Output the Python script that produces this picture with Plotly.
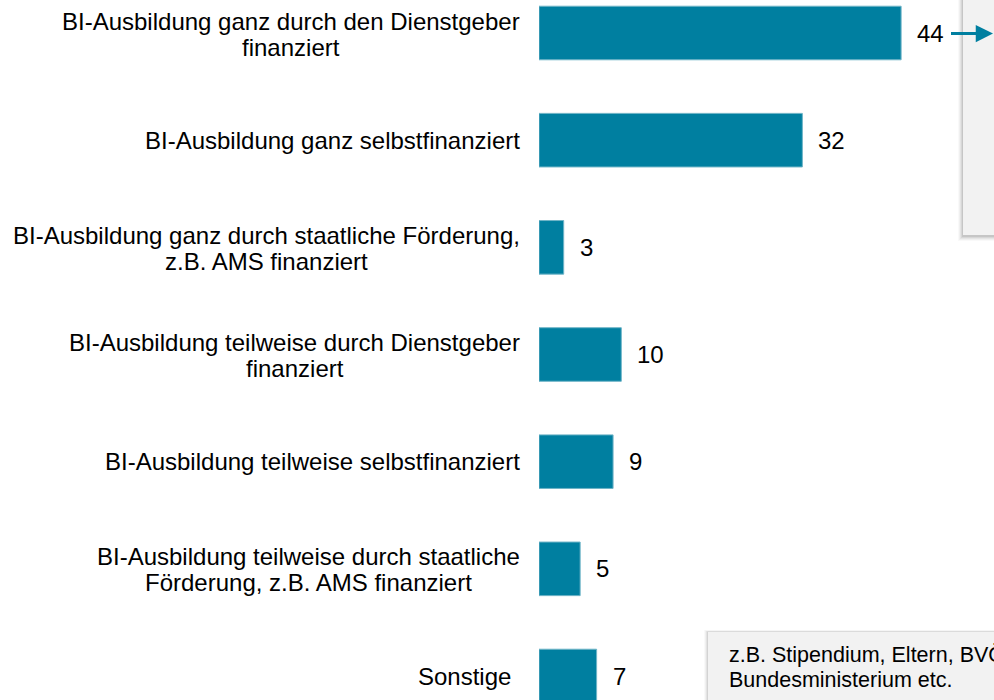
import plotly.graph_objects as go

categories = [
    "BI-Ausbildung ganz durch den Dienstgeber<br>finanziert",
    "BI-Ausbildung ganz selbstfinanziert",
    "BI-Ausbildung ganz durch staatliche Förderung,<br>z.B. AMS finanziert",
    "BI-Ausbildung teilweise durch Dienstgeber<br>finanziert",
    "BI-Ausbildung teilweise selbstfinanziert",
    "BI-Ausbildung teilweise durch staatliche<br>Förderung, z.B. AMS finanziert",
    "Sonstige",
]
values = [44, 32, 3, 10, 9, 5, 7]
note_text = "z.B. Stipendium, Eltern, BVÖ,<br>Bundesministerium etc."

BAR = "#007FA0"
OFF = 0              # page body margin removed via post_script
W, H = 994, 700      # figure size
L = 539 - OFF        # left margin -> x=0 at page x 539
PX_PER_UNIT = 8.23
FONT = "Liberation Sans, Arial, sans-serif"
LBL_SIZE = 24
LINE_H = 26
EXTRA_LABEL_GAP = {6: 9}   # the "Sonstige" label sits a little further left

# Arial / Liberation Sans advance widths (per 1000 em) for text layout
_AW = {
    " ": 278, ",": 278, "-": 333, ".": 278,
    "A": 667, "B": 667, "D": 722, "F": 611, "I": 278, "M": 833, "S": 667, "E": 667,
    "a": 556, "b": 556, "c": 500, "d": 556, "e": 556, "f": 278, "g": 556, "h": 556,
    "i": 222, "l": 222, "m": 833, "n": 556, "o": 556, "p": 556, "r": 333, "s": 500,
    "t": 278, "u": 556, "w": 722, "z": 500, "ö": 556, "ü": 556,
}


def text_width(s, size):
    return sum(_AW.get(ch, 556) for ch in s) * size / 1000.0


y_idx = list(range(len(categories)))

# vertical scale: bar 0 centre at page y 33, bar 6 centre at page y 676
c0 = 33 - OFF
c6 = 676 - OFF
ppu = (c6 - c0) / 6.0
y_top = -c0 / ppu
y_bot = 6 + (H - c6) / ppu

fig = go.Figure()
fig.add_trace(go.Bar(
    x=values, y=y_idx, orientation="h", width=0.5,
    marker=dict(color=BAR, line=dict(color="#6FB4C7", width=1)),
    hoverinfo="skip",
))


def px(xp):
    """page x -> paper x"""
    return (xp - OFF - L) / (W - L)


def py(yp):
    """page y -> paper y"""
    return 1 - (yp - OFF) / H


shapes = []
# soft shadows (layered translucent rects) + light grey boxes
for d, a in [(5, 0.025), (4, 0.035), (3, 0.045), (2, 0.06), (1, 0.08)]:
    shapes.append(dict(type="rect", xref="paper", yref="paper",
                       x0=px(963 - d), x1=px(1010), y0=py(235 + d + 1), y1=py(-10),
                       fillcolor=f"rgba(0,0,0,{a})", line=dict(width=0), layer="below"))
shapes.append(dict(type="rect", xref="paper", yref="paper", x0=px(963), x1=px(1010),
                   y0=py(235), y1=py(-10), fillcolor="#F2F2F2", line=dict(width=0), layer="below"))
for d, a in [(4, 0.025), (3, 0.035), (2, 0.05), (1, 0.07)]:
    shapes.append(dict(type="rect", xref="paper", yref="paper",
                       x0=px(708 - d), x1=px(1010), y0=py(710), y1=py(632 - d * 0.5),
                       fillcolor=f"rgba(0,0,0,{a})", line=dict(width=0), layer="below"))
shapes.append(dict(type="rect", xref="paper", yref="paper", x0=px(708), x1=px(1010),
                   y0=py(710), y1=py(632), fillcolor="#F2F2F2", line=dict(width=0), layer="below"))

annotations = []
GAP = 17
for i, (c, v) in enumerate(zip(categories, values)):
    lines = c.split("<br>")
    n = len(lines)
    w0 = text_width(lines[0], LBL_SIZE)
    gap = GAP + EXTRA_LABEL_GAP.get(i, 0)
    for j, ln in enumerate(lines):
        ys = ((n - 1) / 2 - j) * LINE_H - (1 if n > 1 else 0)
        if j == 0:
            annotations.append(dict(
                x=0, y=i, xref="x", yref="y", text=ln, showarrow=False,
                xanchor="right", yanchor="middle", xshift=-gap, yshift=ys,
                font=dict(family=FONT, size=LBL_SIZE, color="#000000"),
            ))
        else:
            annotations.append(dict(
                x=0, y=i, xref="x", yref="y", text=ln, showarrow=False,
                xanchor="center", yanchor="middle", xshift=-gap - 2 - w0 / 2, yshift=ys,
                font=dict(family=FONT, size=LBL_SIZE, color="#000000"),
            ))
    annotations.append(dict(
        x=v, y=i, xref="x", yref="y", text=str(v), showarrow=False,
        xanchor="left", yanchor="middle", xshift=14,
        font=dict(family=FONT, size=LBL_SIZE, color="#000000"),
    ))

# arrow from the 44 label into the box
annotations.append(dict(
    x=px(993.5), y=py(33.5), xref="paper", yref="paper", ax=-44, ay=0,
    text="", showarrow=True, arrowhead=2, arrowsize=1.15, arrowwidth=3, arrowcolor=BAR,
))

note_lines = note_text.split("<br>")
for j, ln in enumerate(note_lines):
    annotations.append(dict(
        x=px(727), y=py(654.5 + j * 25), xref="paper", yref="paper", text=ln, showarrow=False,
        xanchor="left", yanchor="middle", align="left",
        font=dict(family=FONT, size=21.5, color="#000000"),
    ))

fig.update_layout(
    width=W, height=H,
    margin=dict(l=L, r=0, t=0, b=0),
    paper_bgcolor="white", plot_bgcolor="white",
    showlegend=False,
    hovermode=False,
    xaxis=dict(range=[0, (W - L) / PX_PER_UNIT], visible=False, fixedrange=True),
    yaxis=dict(range=[y_bot, y_top], visible=False, fixedrange=True),
    shapes=shapes,
    annotations=annotations,
)

fig.write_html(
    "out.html",
    config={"displayModeBar": False, "staticPlot": True},
    post_script="document.body.style.margin='0';document.body.style.overflow='hidden';",
)
